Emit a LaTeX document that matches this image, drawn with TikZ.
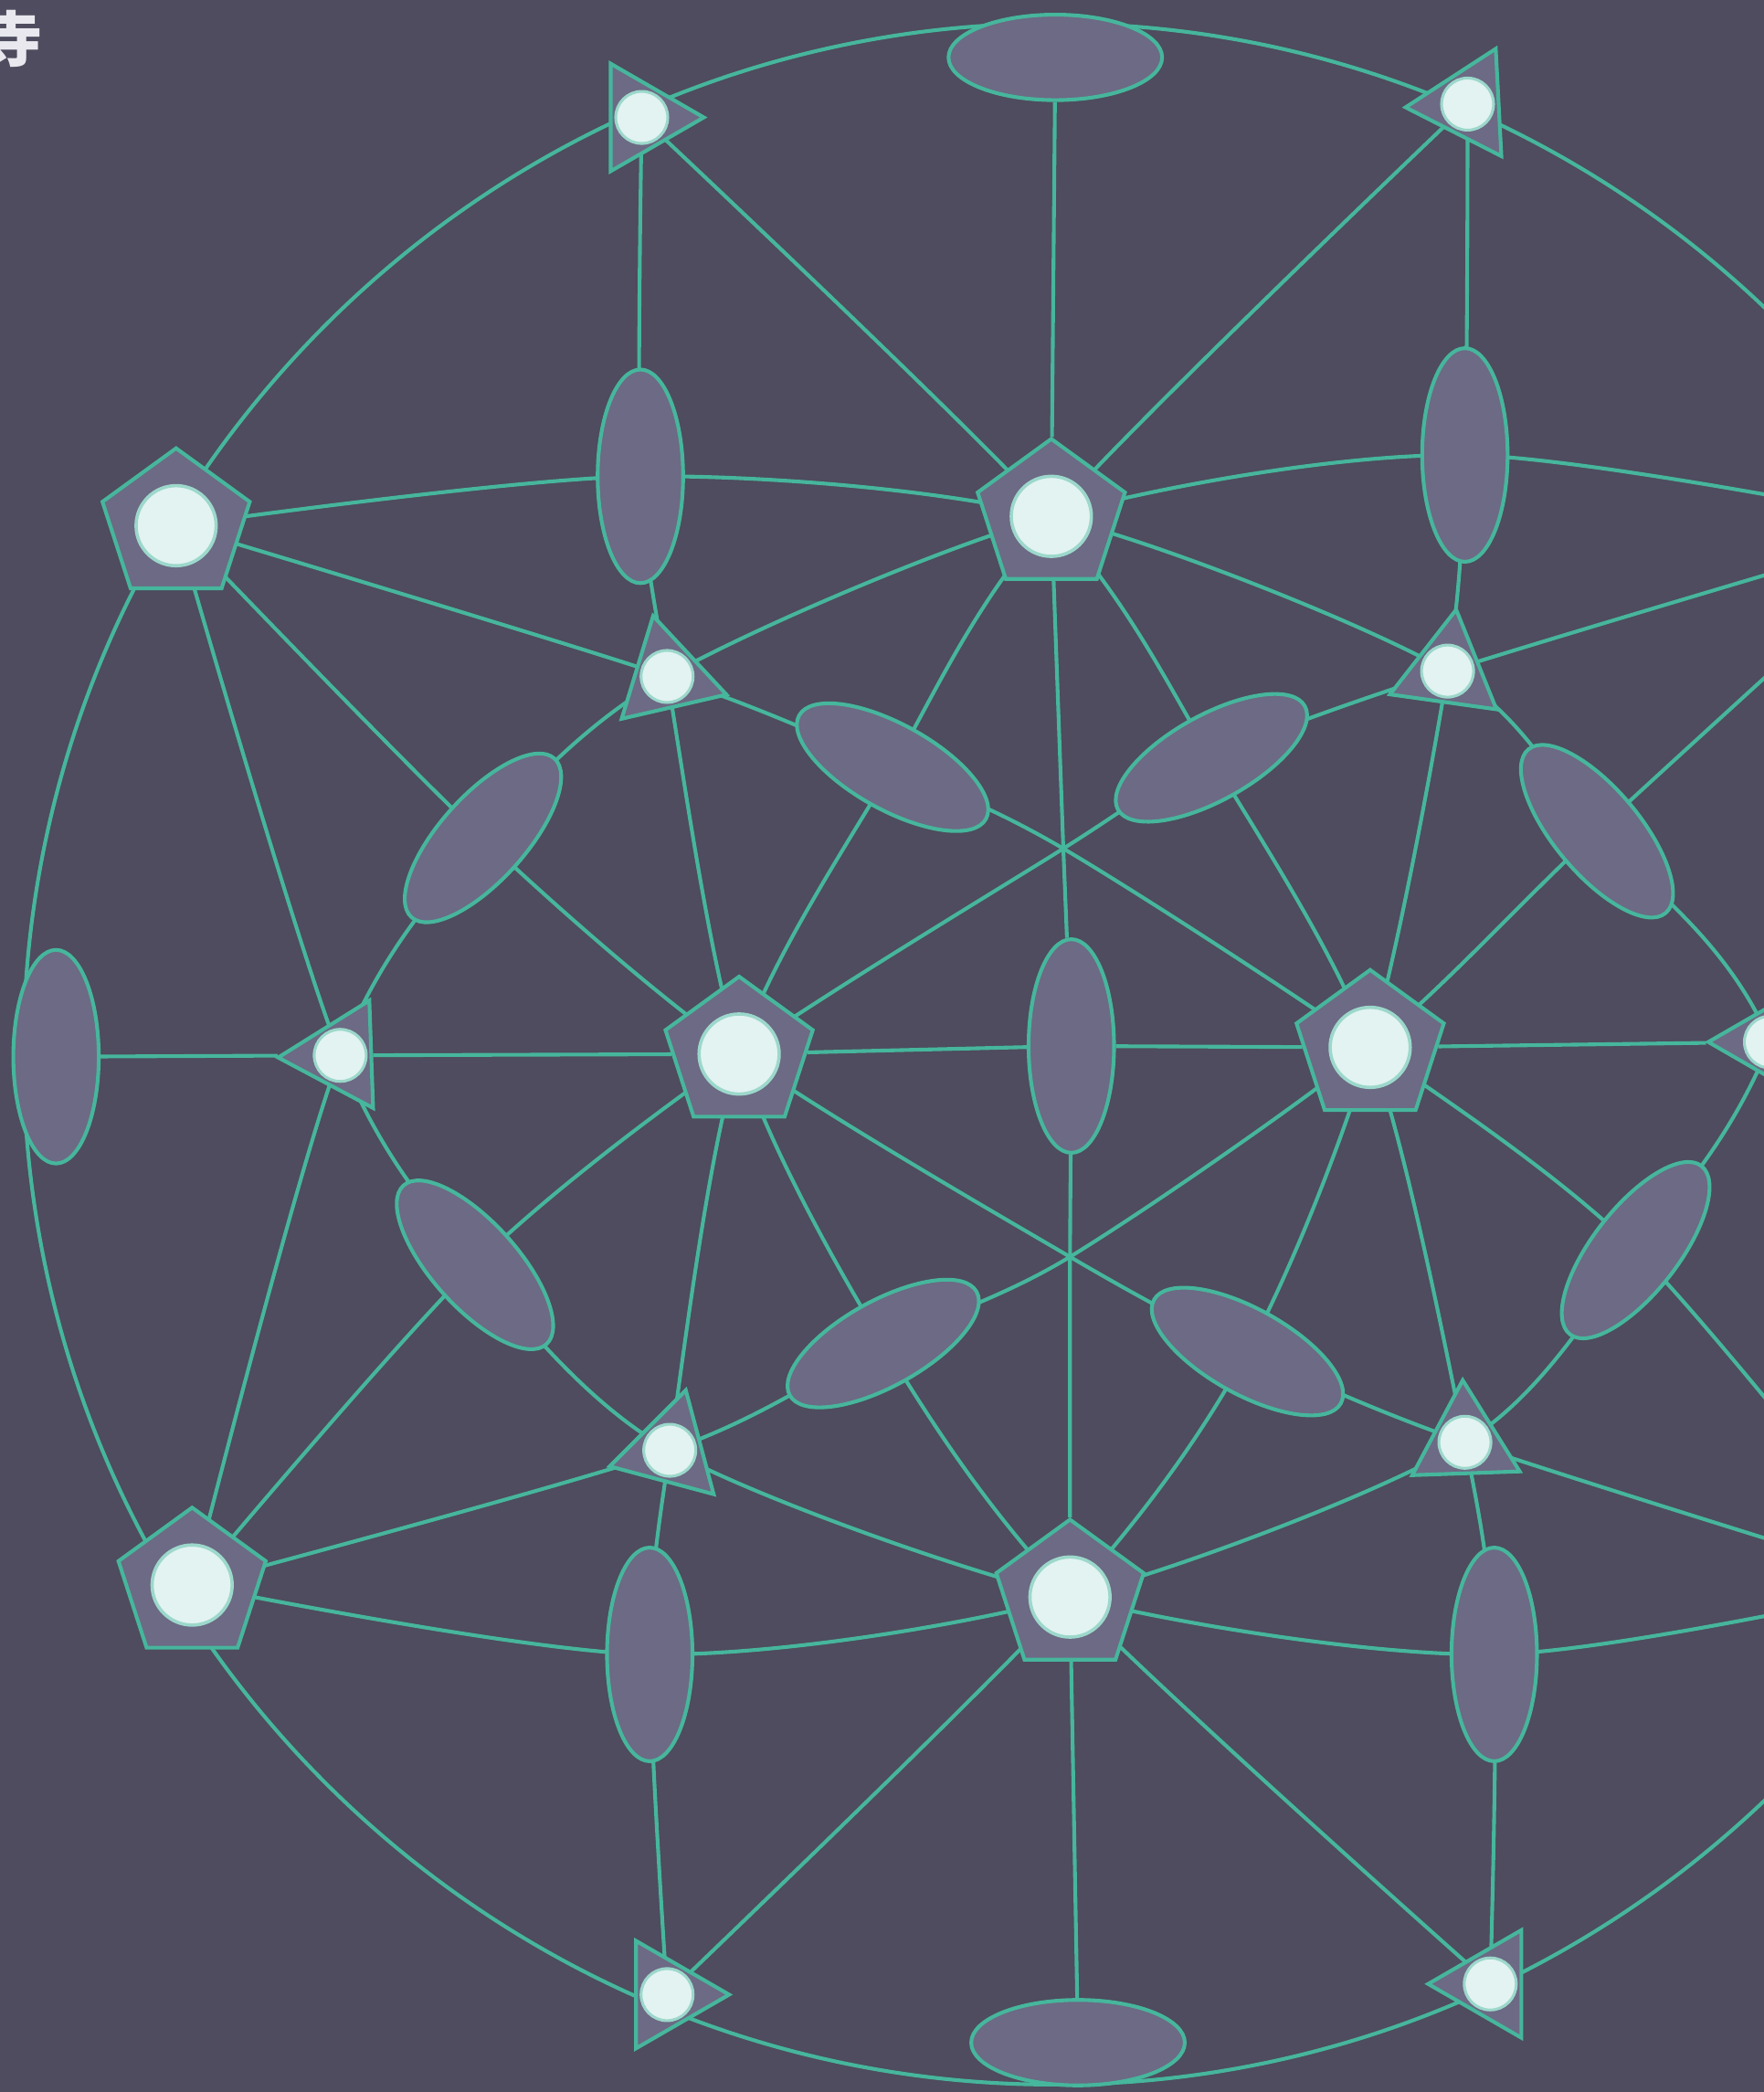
\documentclass[tikz,border=0pt]{standalone}
\usepackage{fontspec}
\newfontfamily\cjk{Noto Sans CJK SC}
\usetikzlibrary{shapes.geometric}

\definecolor{slate}{RGB}{78,76,94}
\definecolor{shade}{RGB}{108,106,132}
\definecolor{wire}{RGB}{70,182,156}
\definecolor{glow}{RGB}{226,243,242}
\definecolor{ink}{RGB}{232,232,238}

\pgfdeclarelayer{back}
\pgfsetlayers{back,main}

\tikzset{
  mirror/.style={draw=wire, line width=0.8pt},
  penta/.style={regular polygon, regular polygon sides=5, minimum size=1.16cm,
    inner sep=0pt, fill=shade, draw=wire, line width=0.8pt},
  tri/.style={regular polygon, regular polygon sides=3, minimum size=0.93cm,
    inner sep=0pt, fill=shade, draw=wire, line width=0.8pt},
  bond/.style={ellipse, minimum width=1.6cm, minimum height=0.64cm,
    inner sep=0pt, fill=shade, draw=wire, line width=0.8pt},
  bighole/.style={circle, minimum size=0.6cm, inner sep=0pt, fill=glow,
    draw=wire!45!glow, line width=0.7pt},
  smallhole/.style={circle, minimum size=0.39cm, inner sep=0pt, fill=glow,
    draw=wire!45!glow, line width=0.6pt}
}

\begin{document}
\begin{tikzpicture}[x=0.01cm,y=-0.01cm]
\useasboundingbox (0,0) rectangle (1322,1568);

% five-fold axes
\node[penta] (pUL) at (132,394) {};
\node[penta] (pT) at (788,387) {};
\node[penta] (pUR) at (1448,394) {};
\node[penta] (pL) at (554,790) {};
\node[penta] (pR) at (1027,785) {};
\node[penta] (pDL) at (144,1188) {};
\node[penta] (pB) at (802,1197) {};
\node[penta] (pDR) at (1436,1188) {};

% three-fold axes
\node[tri, shape border rotate=30] (t1) at (481,88) {};
\node[tri, shape border rotate=-27] (t2) at (1100,78) {};
\node[tri, shape border rotate=13] (t3) at (500,507) {};
\node[tri, shape border rotate=-8] (t4) at (1085,503) {};
\node[tri, shape border rotate=-28] (t5) at (255,791) {};
\node[tri, shape border rotate=-30] (t6) at (1327,781) {};
\node[tri, shape border rotate=-15] (t7) at (502,1087) {};
\node[tri, shape border rotate=2] (t8) at (1098,1081) {};
\node[tri, shape border rotate=30] (t9) at (500,1495) {};
\node[tri, shape border rotate=-30] (t10) at (1117,1487) {};

% two-fold axes
\node[bond] (eTop) at (791,43) {};
\node[bond] (eBot) at (808,1531) {};
\node[bond, rotate=90] (eLft) at (42,792) {};
\node[bond, rotate=90] (eRgt) at (1538,792) {};
\node[bond, rotate=90] (eMid) at (803,784) {};
\node[bond, rotate=90] (b1) at (480,357) {};
\node[bond, rotate=90] (b2) at (1098,341) {};
\node[bond, rotate=90] (b3) at (487,1240) {};
\node[bond, rotate=90] (b4) at (1120,1240) {};
\node[bond, rotate=-29] (k1) at (669,575) {};
\node[bond, rotate=29] (k2) at (908,568) {};
\node[bond, rotate=29] (k3) at (662,1007) {};
\node[bond, rotate=-29] (k4) at (935,1013) {};
\node[bond, rotate=48] (m1) at (362,628) {};
\node[bond, rotate=-50] (m2) at (1197,623) {};
\node[bond, rotate=-48] (m3) at (356,948) {};
\node[bond, rotate=52] (m4) at (1226,937) {};

% lights
\foreach \n in {pUL,pT,pUR,pL,pR,pDL,pB,pDR}
  \node[bighole] (\n-c) at (\n) {};
\foreach \n in {t1,t2,t3,t4,t5,t6,t7,t8,t9,t10}
  \node[smallhole] (\n-c) at (\n) {};

% crossings without a symbol
\coordinate (gU) at (797,636);
\coordinate (gD) at (802,942);
\coordinate (ctr) at (790,790);

\begin{pgfonlayer}{back}
\fill[slate] (0,0) rectangle (1322,1568);

% primitive circle
\draw[mirror] (ctr) circle (7.72cm);

% straight mirrors
\draw[mirror] (eLft) -- (t5) -- (pL) -- (eMid) -- (pR) -- (t6) -- (eRgt);
\draw[mirror] (eTop) -- (pT) -- (gU) -- (eMid) -- (gD) -- (pB) -- (eBot);

% curved mirrors
\draw[mirror] plot[smooth] coordinates {(pDR.center) (b4.center) (pB.center) (t7.center) (m3.center) (t5.center) (pUL.center)};
\draw[mirror] plot[smooth] coordinates {(pUR.center) (b2.center) (pT.center) (t3.center) (m1.center) (t5.center) (pDL.center)};
\draw[mirror] plot[smooth] coordinates {(pDL.center) (b3.center) (pB.center) (t8.center) (m4.center) (t6.center) (pUR.center)};
\draw[mirror] plot[smooth] coordinates {(pUL.center) (b1.center) (pT.center) (t4.center) (m2.center) (t6.center) (pDR.center)};

\draw[mirror] plot[smooth] coordinates {(pUL.center) (m1.center) (pL.center) (gD) (k4.center) (t8.center) (pDR.center)};
\draw[mirror] plot[smooth] coordinates {(pDL.center) (m3.center) (pL.center) (gU) (k2.center) (t4.center) (pUR.center)};
\draw[mirror] plot[smooth] coordinates {(pUR.center) (m2.center) (pR.center) (gD) (k3.center) (t7.center) (pDL.center)};
\draw[mirror] plot[smooth] coordinates {(pDR.center) (m4.center) (pR.center) (gU) (k1.center) (t3.center) (pUL.center)};

\draw[mirror] plot[smooth] coordinates {(t1.center) (b1.center) (t3.center) (pL.center) (k3.center) (pB.center) (t10.center)};
\draw[mirror] plot[smooth] coordinates {(t9.center) (b3.center) (t7.center) (pL.center) (k1.center) (pT.center) (t2.center)};
\draw[mirror] plot[smooth] coordinates {(t2.center) (b2.center) (t4.center) (pR.center) (k4.center) (pB.center) (t9.center)};
\draw[mirror] plot[smooth] coordinates {(t10.center) (b4.center) (t8.center) (pR.center) (k2.center) (pT.center) (t1.center)};
\end{pgfonlayer}

\node[text=ink, font=\cjk\bfseries\fontsize{13}{13}\selectfont] (zi) at (9,29) {寺};
\end{tikzpicture}
\end{document}
